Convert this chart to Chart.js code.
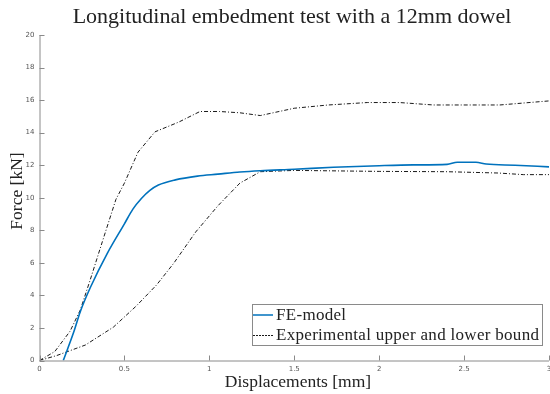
<!DOCTYPE html>
<html>
<head>
<meta charset="utf-8">
<script src="https://cdn.jsdelivr.net/npm/chart.js@4.4.0/dist/chart.umd.min.js"></script>
<style>
html,body{margin:0;padding:0;background:#fff;}
#wrap{position:relative;width:550px;height:394px;}
</style>
</head>
<body>
<div id="wrap"><canvas id="c" width="550" height="394"></canvas></div>
<script>
// ---- data ----
const chartTitle = "Longitudinal embedment test with a 12mm dowel";
const xTitle = "Displacements [mm]";
const yTitle = "Force [kN]";
const feLabel = "FE-model";
const expLabel = "Experimental upper and lower bound";

const xTicks = [0, 0.5, 1, 1.5, 2, 2.5, 3];
const yTicks = [0, 2, 4, 6, 8, 10, 12, 14, 16, 18, 20];

const feX = [0.14, 0.2, 0.24, 0.3, 0.4, 0.5, 0.55, 0.6, 0.65, 0.7, 0.8, 0.93, 1.05, 1.18, 1.3, 1.5, 1.73, 2.0, 2.2, 2.4, 2.46, 2.57, 2.63, 2.8, 3.0];
const feY = [0, 1.7, 3.0, 4.5, 6.6, 8.4, 9.3, 9.95, 10.45, 10.78, 11.1, 11.33, 11.45, 11.58, 11.66, 11.75, 11.87, 11.97, 12.02, 12.05, 12.18, 12.18, 12.07, 12.0, 11.9];

const upX = [0, 0.09, 0.18, 0.24, 0.3, 0.37, 0.45, 0.5, 0.58, 0.68, 0.82, 0.945, 1.06, 1.18, 1.3, 1.5, 1.7, 1.93, 2.12, 2.32, 2.71, 3.0];
const upY = [0, 0.55, 1.8, 3.1, 5.0, 7.3, 9.9, 10.9, 12.8, 14.05, 14.65, 15.3, 15.3, 15.22, 15.05, 15.5, 15.7, 15.85, 15.85, 15.7, 15.7, 15.95];

const loX = [0, 0.1, 0.27, 0.435, 0.57, 0.69, 0.79, 0.92, 1.05, 1.18, 1.3, 1.5, 2.0, 2.4, 2.7, 2.85, 3.0];
const loY = [0, 0.3, 0.95, 2.05, 3.35, 4.65, 5.97, 7.9, 9.5, 10.9, 11.6, 11.68, 11.62, 11.6, 11.52, 11.42, 11.42];

const pts = (xs, ys) => xs.map((x, i) => ({x: x, y: ys[i]}));

const FE_COLOR = '#0072BD';
const EXP_COLOR = '#1a1a1a';
const AXIS_COLOR = '#8a8a8a';
const TICK_TEXT = '#555555';
const SERIF = '"Liberation Serif", "DejaVu Serif", serif';
const DASHDOT = [4, 2, 1, 2];

const decor = {
  id: 'decor',
  afterDraw(chart) {
    const ctx = chart.ctx;
    const xs = chart.scales.x, ys = chart.scales.y;
    const a = chart.chartArea;
    ctx.save();
    // axis lines
    ctx.strokeStyle = AXIS_COLOR;
    ctx.lineWidth = 1;
    ctx.beginPath();
    ctx.moveTo(a.left + 0.5, a.top);
    ctx.lineTo(a.left + 0.5, a.bottom + 0.5);
    ctx.lineTo(a.right, a.bottom + 0.5);
    ctx.stroke();
    // inward ticks
    ctx.beginPath();
    xTicks.forEach(v => {
      const p = Math.round(xs.getPixelForValue(v)) + 0.5;
      ctx.moveTo(p, a.bottom);
      ctx.lineTo(p, a.bottom - 5);
    });
    yTicks.forEach(v => {
      const p = Math.round(ys.getPixelForValue(v)) + 0.5;
      ctx.moveTo(a.left, p);
      ctx.lineTo(a.left + 5, p);
    });
    ctx.stroke();
    // tick labels
    ctx.fillStyle = TICK_TEXT;
    ctx.font = '7px "DejaVu Sans", sans-serif';
    ctx.textAlign = 'center';
    ctx.textBaseline = 'top';
    xTicks.forEach(v => {
      ctx.fillText(String(v), xs.getPixelForValue(v), a.bottom + 5);
    });
    ctx.textAlign = 'right';
    ctx.textBaseline = 'middle';
    yTicks.forEach(v => {
      ctx.fillText(String(v), a.left - 5, ys.getPixelForValue(v));
    });
    // titles
    ctx.fillStyle = '#222';
    ctx.textAlign = 'center';
    ctx.textBaseline = 'alphabetic';
    ctx.font = '22px ' + SERIF;
    ctx.fillText(chartTitle, 292, 23);
    ctx.font = '17.5px ' + SERIF;
    ctx.fillText(xTitle, 298, 387);
    ctx.save();
    ctx.translate(22, 191);
    ctx.rotate(-Math.PI / 2);
    ctx.fillText(yTitle, 0, 0);
    ctx.restore();
    // legend
    const lx = 252, ly = 304, lw = 290, lh = 41;
    ctx.fillStyle = '#fff';
    ctx.fillRect(lx, ly, lw, lh);
    ctx.strokeStyle = '#8a8a8a';
    ctx.lineWidth = 1;
    ctx.strokeRect(lx + 0.5, ly + 0.5, lw, lh);
    ctx.strokeStyle = FE_COLOR;
    ctx.lineWidth = 1.5;
    ctx.beginPath(); ctx.moveTo(253, 315); ctx.lineTo(273, 315); ctx.stroke();
    ctx.strokeStyle = EXP_COLOR;
    ctx.lineWidth = 1;
    ctx.setLineDash([2, 1]);
    ctx.beginPath(); ctx.moveTo(253, 335.5); ctx.lineTo(273, 335.5); ctx.stroke();
    ctx.setLineDash([]);
    ctx.fillStyle = '#222';
    ctx.textAlign = 'left';
    ctx.font = '17px ' + SERIF;
    if ('letterSpacing' in ctx) ctx.letterSpacing = '0.3px';
    ctx.fillText(feLabel, 276, 320);
    ctx.fillText(expLabel, 276, 340);
    if ('letterSpacing' in ctx) ctx.letterSpacing = '0px';
    ctx.restore();
  }
};

new Chart(document.getElementById('c'), {
  type: 'line',
  data: {
    datasets: [
      {label: feLabel, data: pts(feX, feY), borderColor: FE_COLOR, borderWidth: 1.6, pointRadius: 0, cubicInterpolationMode: 'monotone', fill: false},
      {label: expLabel, data: pts(upX, upY), borderColor: EXP_COLOR, borderWidth: 1, borderDash: DASHDOT, pointRadius: 0, tension: 0, fill: false},
      {label: expLabel + ' (lower)', data: pts(loX, loY), borderColor: EXP_COLOR, borderWidth: 1, borderDash: DASHDOT, pointRadius: 0, tension: 0, fill: false}
    ]
  },
  options: {
    responsive: false,
    animation: false,
    devicePixelRatio: 1,
    layout: {padding: {top: 35, right: 1, left: 0, bottom: 0}},
    plugins: {legend: {display: false}, title: {display: false}, tooltip: {enabled: false}},
    scales: {
      x: {
        type: 'linear', min: 0, max: 3,
        grid: {display: false}, border: {display: false},
        ticks: {display: false, stepSize: 0.5},
        afterFit(s) { s.height = 33.5; }
      },
      y: {
        type: 'linear', min: 0, max: 20,
        grid: {display: false}, border: {display: false},
        ticks: {display: false, stepSize: 2},
        afterFit(s) { s.width = 39.5; }
      }
    }
  },
  plugins: [decor]
});
</script>
</body>
</html>
